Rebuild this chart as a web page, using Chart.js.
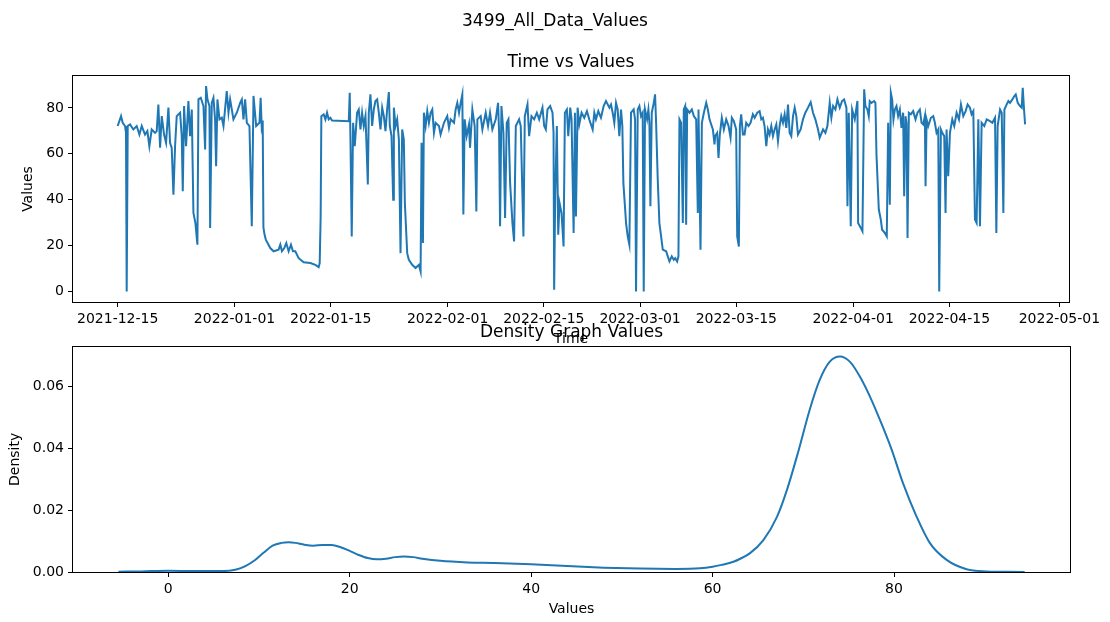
<!DOCTYPE html>
<html>
<head>
<meta charset="utf-8">
<title>3499_All_Data_Values</title>
<script src="https://cdn.jsdelivr.net/npm/chart.js@4.4.1/dist/chart.umd.min.js"></script>
<style>
  html, body { margin: 0; padding: 0; background: #fff; }
  #wrap { position: relative; width: 1110px; height: 622px; overflow: hidden; }
  #wrap canvas { position: absolute; left: 0; }
  #timeChart { top: 0; }
  #densityChart { top: 310px; }
  #suptitle {
    position: absolute; left: 0; top: 10px; width: 1110px; height: 20px;
    line-height: 20px; text-align: center; color: #000;
    font: 17px 'DejaVu Sans', sans-serif;
  }
</style>
</head>
<body>
<div id="wrap">
  <canvas id="timeChart" width="1110" height="350"></canvas>
  <canvas id="densityChart" width="1110" height="312"></canvas>
  <div id="suptitle">3499_All_Data_Values</div>
</div>
<script>
// time axis: days since 2021-12-15
const dateTicks = [0, 17, 31, 48, 62, 76, 90, 107, 121, 137];
const dateLabels = ['2021-12-15', '2022-01-01', '2022-01-15', '2022-02-01', '2022-02-15',
                    '2022-03-01', '2022-03-15', '2022-04-01', '2022-04-15', '2022-05-01'];
const valueTicks = [0, 20, 40, 60, 80];

const timeDays = [
  0.00, 0.49, 0.73, 1.07, 1.21, 1.31, 1.46, 1.80, 2.28, 2.77, 3.16, 3.50, 3.98, 4.32, 4.61, 4.95,
  5.44, 5.68, 5.92, 6.17, 6.41, 6.75, 7.04, 7.38, 7.62, 7.86, 8.11, 8.35, 8.59, 9.08, 9.32, 9.47,
  9.66, 9.95, 10.29, 10.53, 10.78, 11.02, 11.31, 11.60, 11.75, 12.09, 12.48, 12.72, 12.86, 13.06,
  13.35, 13.45, 13.69, 13.93, 14.17, 14.32, 14.51, 14.81, 15.15, 15.39, 15.87, 16.12, 16.36, 16.84,
  17.33, 17.82, 18.06, 18.30, 18.54, 18.79, 19.17, 19.51, 19.76, 20.15, 20.63, 20.80, 20.95, 21.10,
  21.20, 21.35, 21.55, 22.20, 22.68, 23.41, 23.66, 23.90, 24.24, 24.53, 24.87, 25.21, 25.50, 25.84,
  26.33, 27.06, 28.03, 28.76, 29.24, 29.39, 29.53, 29.63, 29.97, 30.22, 30.46, 30.70, 30.94, 31.19,
  33.62, 33.76, 33.86, 34.05, 34.25, 34.49, 34.83, 35.07, 35.32, 35.56, 35.80, 36.05, 36.19, 36.39,
  36.53, 36.77, 37.02, 37.26, 37.50, 37.75, 37.99, 38.23, 38.48, 38.72, 38.96, 39.20, 39.45, 39.59,
  39.84, 40.08, 40.18, 40.42, 40.66, 40.91, 41.15, 41.39, 41.63, 41.78, 42.12, 42.36, 42.85, 43.34,
  43.82, 44.07, 44.21, 44.41, 44.55, 44.80, 45.04, 45.28, 45.53, 45.77, 46.01, 46.25, 46.74, 46.98,
  47.47, 47.95, 48.20, 48.44, 48.93, 49.17, 49.41, 49.66, 49.90, 50.14, 50.29, 50.48, 50.77, 51.11,
  51.26, 51.60, 51.94, 52.18, 52.33, 52.81, 53.06, 53.54, 53.88, 54.17, 54.51, 55.00, 55.34, 55.49,
  55.63, 55.83, 56.12, 56.36, 56.60, 56.85, 57.09, 57.43, 57.67, 57.92, 58.40, 58.64, 59.03, 59.23,
  59.62, 59.86, 60.20, 60.59, 60.98, 61.32, 61.80, 62.05, 62.29, 62.53, 62.92, 63.26, 63.41, 63.50,
  63.65, 63.89, 64.09, 64.28, 64.57, 64.87, 65.06, 65.35, 65.55, 65.84, 66.03, 66.33, 66.52, 66.67,
  66.91, 67.15, 67.49, 67.88, 68.27, 68.61, 69.10, 69.34, 69.58, 69.92, 70.31, 70.70, 71.04, 71.53,
  71.77, 72.01, 72.25, 72.50, 72.74, 72.98, 73.23, 73.42, 73.57, 73.96, 74.20, 74.44, 74.68, 75.07,
  75.27, 75.41, 75.66, 75.90, 76.14, 76.38, 76.53, 76.72, 77.02, 77.21, 77.36, 77.50, 77.70, 77.99,
  78.18, 78.33, 78.57, 78.81, 79.06, 79.30, 79.79, 80.03, 80.27, 80.61, 80.90, 81.10, 81.39, 81.58,
  81.73, 81.97, 82.22, 82.36, 82.56, 82.70, 82.85, 83.19, 83.53, 83.82, 84.16, 84.40, 84.50, 84.79,
  84.99, 85.28, 85.62, 85.86, 86.10, 86.59, 86.83, 86.92, 87.21, 87.41, 87.60, 87.89, 88.19, 88.53,
  88.87, 89.16, 89.35, 89.64, 89.98, 90.13, 90.37, 90.52, 90.71, 90.96, 91.20, 91.44, 91.78, 92.07,
  92.41, 92.66, 93.05, 93.39, 93.63, 93.87, 94.11, 94.36, 94.60, 94.84, 95.09, 95.33, 95.57, 95.82,
  96.06, 96.30, 96.54, 96.79, 97.03, 97.27, 97.52, 97.76, 98.00, 98.25, 98.49, 98.73, 98.97, 99.36,
  99.70, 100.04, 100.43, 100.82, 101.16, 101.50, 101.89, 102.13, 102.62, 102.96, 103.25, 103.59,
  103.83, 104.08, 104.42, 104.71, 105.05, 105.39, 105.68, 106.02, 106.17, 106.36, 106.65, 106.85,
  107.23, 107.62, 107.72, 108.11, 108.35, 108.60, 108.78, 109.07, 109.27, 109.41, 109.66, 110.05,
  110.24, 110.39, 110.73, 111.02, 111.21, 111.60, 111.89, 112.09, 112.33, 112.48, 112.67, 112.86,
  113.06, 113.30, 113.54, 113.79, 114.03, 114.27, 114.42, 114.61, 114.76, 114.91, 115.10, 115.39,
  115.73, 116.07, 116.36, 116.70, 116.95, 117.19, 117.43, 117.53, 117.68, 117.92, 118.31, 118.65,
  118.89, 119.13, 119.38, 119.52, 119.76, 119.96, 120.25, 120.44, 120.59, 120.83, 121.08, 121.42,
  121.71, 122.05, 122.39, 122.68, 123.02, 123.36, 123.65, 123.99, 124.23, 124.48, 124.72, 124.96,
  125.21, 125.45, 125.69, 126.08, 126.42, 126.91, 127.25, 127.64, 127.83, 128.02, 128.37, 128.61,
  128.85, 129.00, 129.34, 129.58, 129.82, 130.16, 130.45, 130.65, 130.94, 131.28, 131.52, 131.67,
  131.86, 132.01
];

const timeValues = [
  72.1, 76.4, 73.5, 72.1, 69.1, 0, 72.1, 72.8, 70.6, 72.1, 68.4, 72.1, 68.4, 69.9, 63.3, 70.6,
  69.1, 69.9, 81.5, 62.6, 76.4, 68.4, 64.8, 80.1, 64.8, 62.6, 42.2, 63.3, 76.4, 77.9, 67.7, 43.7,
  80.8, 63.3, 83.0, 67.7, 79.3, 34.2, 29.8, 20.4, 83.7, 84.4, 80.8, 61.9, 89.5, 83.7,
  80.8, 27.7, 82.2, 84.4, 75.0, 54.6, 83.7, 75.0, 75.7, 72.1, 87.3, 77.9, 83.7, 75.0,
  77.9, 82.2, 83.7, 75.0, 83.7, 73.5, 72.1, 28.4, 85.2, 72.1, 73.5, 84.4, 72.0, 74.5,
  28.0, 25.0, 22.6, 18.9, 17.5, 18.2, 20.4, 17.5, 18.9, 21.1, 17.5, 20.4, 17.5, 17.5,
  14.5, 12.7, 12.4, 11.6, 10.6, 12.4, 32.7, 76.4, 77.2, 75.0, 77.9, 75.0, 75.7, 74.5,
  74.2, 86.6, 67.7, 24.0, 73.5, 63.3, 77.9, 79.3, 70.6, 77.9, 72.1, 76.4, 64.8, 46.6,
  77.9, 85.9, 72.1, 79.3, 83.0, 83.7, 77.9, 70.6, 80.1, 76.4, 69.9, 79.3, 86.9, 72.1,
  67.7, 40.0, 80.1, 72.1, 75.0, 66.2, 16.7, 70.6, 66.2, 38.6, 16.7, 13.8, 11.6, 10.2,
  11.6, 8.7, 64.8, 21.1, 77.9, 72.1, 78.6, 73.5, 77.9, 79.3, 69.1, 73.5, 72.1, 68.4,
  73.5, 76.4, 71.3, 75.0, 73.5, 79.3, 82.2, 77.9, 82.2, 85.9, 33.5, 75.0, 67.7, 72.8,
  62.6, 79.3, 72.1, 34.9, 75.0, 76.4, 70.6, 77.9, 72.1, 77.9, 70.6, 75.0, 82.2, 69.1,
  28.4, 80.8, 69.1, 32.0, 73.5, 75.0, 47.3, 29.8, 21.8, 72.1, 75.0, 72.1, 24.0, 76.4,
  81.5, 67.7, 76.4, 75.0, 77.9, 75.0, 80.1, 72.1, 70.6, 79.3, 80.8, 77.9, 69.1, 0.7,
  41.5, 72.1, 24.7, 38.6, 34.2, 19.6, 77.9, 79.3, 67.7, 80.1, 75.0, 25.5, 77.9, 32.7,
  80.1, 72.8, 77.9, 75.7, 78.6, 75.0, 70.6, 77.9, 75.0, 78.6, 75.7, 80.8, 83.0, 80.1,
  81.5, 77.9, 73.5, 82.2, 79.3, 67.7, 79.3, 72.1, 47.3, 29.8, 24.0, 20.4, 77.9, 79.3,
  75.0, 0, 79.3, 80.8, 76.4, 77.9, 0, 79.3, 75.0, 79.3, 73.5, 37.1, 77.9, 82.2,
  85.9, 73.5, 48.8, 29.8, 24.0, 18.2, 17.5, 15.3, 13.1, 15.3, 13.8, 14.5, 13.1, 15.3,
  75.0, 73.5, 29.8, 79.3, 80.8, 29.1, 79.3, 77.9, 79.3, 76.4, 75.0, 34.2, 79.3, 18.2,
  73.5, 77.9, 82.2, 79.3, 75.0, 70.6, 64.1, 67.7, 69.1, 58.2, 68.4, 75.7, 70.6, 75.0,
  72.1, 67.0, 75.7, 74.2, 70.6, 24.0, 19.6, 72.1, 77.2, 68.4, 68.4, 73.5, 72.1, 73.5,
  77.2, 75.7, 77.9, 78.6, 75.0, 75.7, 72.1, 63.3, 70.6, 68.4, 72.1, 67.7, 70.6, 72.8,
  65.5, 72.1, 76.4, 73.5, 77.2, 71.3, 81.5, 69.1, 67.7, 76.4, 80.1, 76.4, 68.4, 70.6,
  75.0, 77.9, 80.1, 82.5, 77.9, 75.0, 70.6, 67.0, 70.6, 69.1, 72.1, 82.2,
  75.7, 80.8, 79.3, 83.7, 80.1, 83.0, 83.7, 80.1, 37.1, 77.9, 28.4, 79.3,
  75.0, 83.0, 29.8, 27.7, 26.2, 88.1, 80.8, 79.3, 76.4, 83.0, 82.2, 83.0,
  82.2, 59.7, 35.7, 31.3, 26.9, 25.5, 24.0, 73.5, 37.8, 86.6, 83.7, 75.0,
  79.3, 80.8, 76.4, 79.3, 71.3, 77.9, 41.5, 76.4, 73.5, 23.3, 77.9, 77.2,
  78.6, 75.0, 77.9, 79.3, 73.5, 72.8, 76.4, 45.9, 75.0, 72.1, 75.7, 76.4,
  73.5, 69.1, 70.6, 0, 70.6, 69.1, 67.7, 34.2, 70.6, 50.2, 69.1, 75.0,
  72.1, 77.9, 75.0, 81.5, 76.4, 78.6, 81.5, 80.1, 77.2, 78.6, 31.3, 29.8,
  75.0, 28.4, 73.5, 72.1, 75.0, 74.2, 73.5, 75.7, 25.5, 72.1, 79.3, 77.9,
  34.2, 79.3, 81.5, 83.0, 82.2, 83.7, 85.2, 85.9, 82.2, 80.8, 80.1, 88.8,
  79.3, 72.8
];

// density curve of the same values
const densityX = [
  -5.5, -3, 0, 3, 6, 7.5, 8.5, 9.5, 10.5, 11.5, 12.5, 13.3, 14, 15, 16, 17, 18, 19, 20, 21, 22,
  23, 24, 25, 26, 27, 28, 30, 33, 36, 40, 44, 48, 52, 56, 58.6, 60, 61, 62.3, 63, 64.1, 65.6,
  67.1, 68.2, 69.5, 70.7, 71.8, 72.9, 74.05, 75.15, 76.25, 77.35, 78.6, 79.75, 81.0, 82.5,
  83.96, 85.8, 88.0, 90.2, 92, 94.4
];
const densityY = [
  0.0001, 0.0002, 0.0004, 0.0003, 0.0003, 0.0008, 0.0019, 0.0037, 0.0062, 0.0085, 0.0094,
  0.0096, 0.0094, 0.0088, 0.0085, 0.0087, 0.0087, 0.0080, 0.0068, 0.0055, 0.0045, 0.0041,
  0.0043, 0.0048, 0.0050, 0.0048, 0.0043, 0.0036, 0.0031, 0.0029, 0.0025, 0.0019, 0.0014,
  0.0011, 0.0010, 0.0012, 0.0017, 0.0023, 0.0033, 0.0042, 0.0060, 0.0103, 0.0178, 0.0265,
  0.0394, 0.0523, 0.0619, 0.0678, 0.0695, 0.0678, 0.0630, 0.0566, 0.0480, 0.0394, 0.0286,
  0.0178, 0.0093, 0.0039, 0.0009, 0.0002, 0.0001, 0.0000
];
const densityXTicks = [0, 20, 40, 60, 80];
const densityYTicks = [0, 0.02, 0.04, 0.06];

const BLUE = '#1f77b4';

Chart.defaults.font.family = "'DejaVu Sans', sans-serif";
Chart.defaults.font.size = 14;
Chart.defaults.color = '#000';

// full box around the plot area
const frameBox = {
  id: 'frameBox',
  afterDraw(chart) {
    const { ctx, chartArea: a } = chart;
    ctx.save();
    ctx.strokeStyle = '#000';
    ctx.lineWidth = 1;
    ctx.strokeRect(Math.round(a.left) - 0.5, Math.round(a.top) - 0.5,
                   Math.round(a.right - a.left) + 1, Math.round(a.bottom - a.top) + 1);
    ctx.restore();
  }
};

function fixedTicks(list) {
  return scale => { scale.ticks = list.map(v => ({ value: v })); };
}

function axisGrid() {
  return { drawOnChartArea: false, drawTicks: true, tickLength: 5, color: '#000', lineWidth: 1 };
}

function baseOptions() {
  return {
    responsive: false,
    devicePixelRatio: 1,
    animation: false,
    events: [],
    plugins: { legend: { display: false }, tooltip: { enabled: false } }
  };
}

// --- top: values over time ---
const timeOpts = baseOptions();
timeOpts.layout = { padding: { left: 0, right: 41, top: 0, bottom: 2.6 } };
timeOpts.plugins.title = {
  display: true, fullSize: false, text: 'Time vs Values', color: '#000',
  font: { size: 17, weight: 'normal' }, padding: { top: 52.6, bottom: 3 }
};
timeOpts.scales = {
  x: {
    type: 'linear', min: -6.5, max: 138.4,
    afterBuildTicks: fixedTicks(dateTicks),
    afterFit: s => { s.height = 45.4; },
    grid: axisGrid(), border: { display: false },
    ticks: {
      padding: 4, autoSkip: false, maxRotation: 0, color: '#000',
      callback: v => dateLabels[dateTicks.indexOf(v)]
    },
    title: { display: true, text: 'Time', color: '#000', padding: { top: 0, bottom: 0 } }
  },
  y: {
    type: 'linear', min: -4.6, max: 93.9,
    afterBuildTicks: fixedTicks(valueTicks),
    afterFit: s => { s.width = 73; },
    grid: axisGrid(), border: { display: false },
    ticks: { padding: 4, color: '#000', callback: v => String(v) },
    title: { display: true, text: 'Values', color: '#000', padding: { top: 19.6, bottom: 0 } }
  }
};

new Chart(document.getElementById('timeChart'), {
  type: 'line',
  data: {
    datasets: [{
      data: timeDays.map((d, i) => ({ x: d, y: timeValues[i] })),
      borderColor: BLUE, borderWidth: 2, pointRadius: 0, tension: 0, fill: false
    }]
  },
  options: timeOpts,
  plugins: [frameBox]
});

// --- bottom: density of values ---
const densOpts = baseOptions();
densOpts.layout = { padding: { left: 0, right: 40, top: 0, bottom: 4.6 } };
densOpts.plugins.title = {
  display: true, fullSize: false, text: 'Density Graph Values', color: '#000',
  font: { size: 17, weight: 'normal' }, padding: { top: 12.6, bottom: 3.7 }
};
densOpts.scales = {
  x: {
    type: 'linear', min: -10.5, max: 99.4,
    afterBuildTicks: fixedTicks(densityXTicks),
    afterFit: s => { s.height = 45.4; },
    grid: axisGrid(), border: { display: false },
    ticks: { padding: 4, autoSkip: false, maxRotation: 0, color: '#000', callback: v => String(v) },
    title: { display: true, text: 'Values', color: '#000', padding: { top: 0, bottom: 0 } }
  },
  y: {
    type: 'linear', min: 0, max: 0.0727,
    afterBuildTicks: fixedTicks(densityYTicks),
    afterFit: s => { s.width = 73; },
    grid: axisGrid(), border: { display: false },
    ticks: { padding: 4, color: '#000', callback: v => v.toFixed(2) },
    title: { display: true, text: 'Density', color: '#000', padding: { top: 6.6, bottom: 0 } }
  }
};

new Chart(document.getElementById('densityChart'), {
  type: 'line',
  data: {
    datasets: [{
      data: densityX.map((v, i) => ({ x: v, y: densityY[i] })),
      borderColor: BLUE, borderWidth: 2, pointRadius: 0,
      cubicInterpolationMode: 'monotone', fill: false
    }]
  },
  options: densOpts,
  plugins: [frameBox]
});
</script>
</body>
</html>
